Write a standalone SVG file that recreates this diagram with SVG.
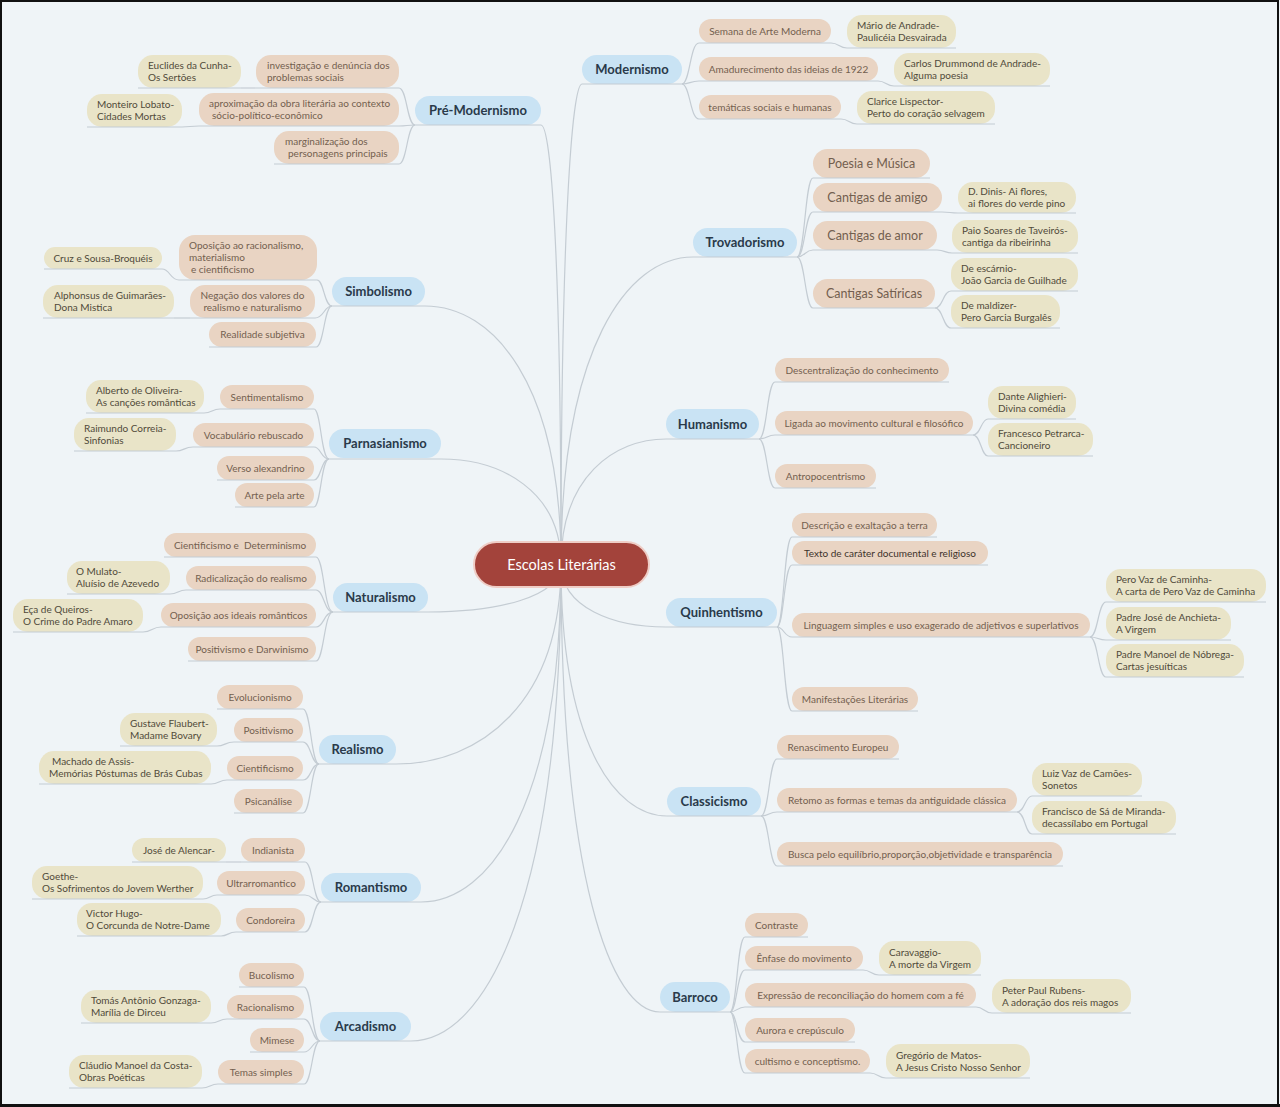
<svg xmlns="http://www.w3.org/2000/svg" width="1280" height="1107" viewBox="0 0 1280 1107">
<style>
.bg{fill:#eff4f7}
.ln{fill:none;stroke:#c4ccd3;stroke-width:1.2}
.ul{stroke:#c4ccd3;stroke-width:1.2}
.m rect{fill:#c9e3f4}
.m text{font-family:Lato,"Open Sans",sans-serif;font-weight:700;font-size:13px;fill:#2a3a4a;text-anchor:middle}
.c rect{fill:#e9d4c3}
.c text{font-family:Lato,"Open Sans",sans-serif;font-size:10px;fill:#735f4f}
.cb text{font-size:12.5px}
.g rect{fill:#e9e4c8}
.g text{font-family:Lato,"Open Sans",sans-serif;font-size:10px;fill:#504a3a}
.mid{text-anchor:middle}
.root rect{fill:#a3433b;stroke:#efcdc6;stroke-width:2}
.root text{font-family:Lato,"Open Sans",sans-serif;font-size:14.5px;fill:#ffffff;text-anchor:middle}
</style>
<rect class="bg" x="0" y="0" width="1280" height="1107"/>
<g id="connectors">
<path class="ln" d="M541,125 C551,125 561,257 561,564"/>
<path class="ln" d="M425,306 C493,306 561,383 561,564"/>
<path class="ln" d="M441,459 C501,459 561,491 561,564"/>
<path class="ln" d="M428,612 C495,612 561,598 561,564"/>
<path class="ln" d="M396,764 C479,764 561,704 561,564"/>
<path class="ln" d="M421,902 C491,902 561,801 561,564"/>
<path class="ln" d="M411,1041 C486,1041 561,898 561,564"/>
<path class="ln" d="M582,84 C572,84 561,228 561,564"/>
<path class="ln" d="M693,257 C627,257 561,349 561,564"/>
<path class="ln" d="M666,439 C614,439 561,477 561,564"/>
<path class="ln" d="M666,627 C614,627 561,608 561,564"/>
<path class="ln" d="M667,816 C614,816 561,740 561,564"/>
<path class="ln" d="M660,1012 C611,1012 561,878 561,564"/>
<path class="ln" d="M415,125 C407,125 407,88 399,88"/>
<path class="ln" d="M415,125 C407,125 407,126 399,126"/>
<path class="ln" d="M415,125 C407,125 407,164 399,164"/>
<path class="ln" d="M256,88 L241,88"/>
<path class="ln" d="M199,126 C190,126 190,127 182,127"/>
<path class="ln" d="M332,306 C324,306 324,280 317,280"/>
<path class="ln" d="M332,306 C324,306 324,318 315,318"/>
<path class="ln" d="M332,306 C324,306 324,347 316,347"/>
<path class="ln" d="M179,280 C170,280 170,269 162,269"/>
<path class="ln" d="M190,318 L174,318"/>
<path class="ln" d="M329,459 C321,459 321,409 314,409"/>
<path class="ln" d="M329,459 C321,459 321,447 314,447"/>
<path class="ln" d="M329,459 C321,459 321,480 314,480"/>
<path class="ln" d="M329,459 C321,459 321,507 314,507"/>
<path class="ln" d="M220,409 C212,409 212,413 204,413"/>
<path class="ln" d="M193,447 C184,447 184,451 176,451"/>
<path class="ln" d="M333,612 C324,612 324,557 316,557"/>
<path class="ln" d="M333,612 C324,612 324,590 316,590"/>
<path class="ln" d="M333,612 C324,612 324,627 316,627"/>
<path class="ln" d="M333,612 C324,612 324,661 316,661"/>
<path class="ln" d="M186,590 C178,590 178,594 170,594"/>
<path class="ln" d="M161,627 C152,627 152,632 143,632"/>
<path class="ln" d="M319,764 C311,764 311,709 303,709"/>
<path class="ln" d="M319,764 C311,764 311,742 303,742"/>
<path class="ln" d="M319,764 C311,764 311,780 303,780"/>
<path class="ln" d="M319,764 C311,764 311,813 303,813"/>
<path class="ln" d="M234,742 C225,742 225,746 217,746"/>
<path class="ln" d="M227,780 C219,780 219,784 211,784"/>
<path class="ln" d="M321,902 C313,902 313,862 305,862"/>
<path class="ln" d="M321,902 C313,902 313,895 305,895"/>
<path class="ln" d="M321,902 C313,902 313,932 305,932"/>
<path class="ln" d="M241,862 L226,862"/>
<path class="ln" d="M217,895 C210,895 210,899 203,899"/>
<path class="ln" d="M236,932 C228,932 228,936 221,936"/>
<path class="ln" d="M320,1041 C312,1041 312,987 304,987"/>
<path class="ln" d="M320,1041 C312,1041 312,1019 304,1019"/>
<path class="ln" d="M320,1041 C312,1041 312,1052 304,1052"/>
<path class="ln" d="M320,1041 C312,1041 312,1084 304,1084"/>
<path class="ln" d="M227,1019 C219,1019 219,1023 211,1023"/>
<path class="ln" d="M218,1084 C210,1084 210,1088 202,1088"/>
<path class="ln" d="M682,84 C690,84 690,43 699,43"/>
<path class="ln" d="M682,84 C690,84 690,81 699,81"/>
<path class="ln" d="M682,84 C690,84 690,119 699,119"/>
<path class="ln" d="M831,43 C839,43 839,48 847,48"/>
<path class="ln" d="M878,81 C886,81 886,86 894,86"/>
<path class="ln" d="M841,119 C849,119 849,124 857,124"/>
<path class="ln" d="M797,257 C805,257 805,178 813,178"/>
<path class="ln" d="M797,257 C805,257 805,212 813,212"/>
<path class="ln" d="M797,257 C805,257 805,250 813,250"/>
<path class="ln" d="M797,257 C805,257 805,308 813,308"/>
<path class="ln" d="M942,212 C950,212 950,213 958,213"/>
<path class="ln" d="M937,250 C945,250 945,253 952,253"/>
<path class="ln" d="M935,308 C943,308 943,291 951,291"/>
<path class="ln" d="M935,308 C943,308 943,328 951,328"/>
<path class="ln" d="M759,439 C767,439 767,382 775,382"/>
<path class="ln" d="M759,439 C767,439 767,435 775,435"/>
<path class="ln" d="M759,439 C767,439 767,488 775,488"/>
<path class="ln" d="M973,435 C981,435 981,419 988,419"/>
<path class="ln" d="M973,435 C981,435 981,456 988,456"/>
<path class="ln" d="M777,627 C784,627 784,537 792,537"/>
<path class="ln" d="M777,627 C784,627 784,565 792,565"/>
<path class="ln" d="M777,627 C784,627 784,637 792,637"/>
<path class="ln" d="M777,627 C784,627 784,711 792,711"/>
<path class="ln" d="M1090,637 C1098,637 1098,602 1106,602"/>
<path class="ln" d="M1090,637 C1098,637 1098,640 1106,640"/>
<path class="ln" d="M1090,637 C1098,637 1098,677 1106,677"/>
<path class="ln" d="M761,816 C769,816 769,759 777,759"/>
<path class="ln" d="M761,816 C769,816 769,812 777,812"/>
<path class="ln" d="M761,816 C769,816 769,866 777,866"/>
<path class="ln" d="M1017,812 C1025,812 1025,796 1032,796"/>
<path class="ln" d="M1017,812 C1025,812 1025,834 1032,834"/>
<path class="ln" d="M730,1012 C737,1012 737,937 745,937"/>
<path class="ln" d="M730,1012 C737,1012 737,970 745,970"/>
<path class="ln" d="M730,1012 C737,1012 737,1007 745,1007"/>
<path class="ln" d="M730,1012 C737,1012 737,1042 745,1042"/>
<path class="ln" d="M730,1012 C737,1012 737,1073 745,1073"/>
<path class="ln" d="M863,970 C871,970 871,975 879,975"/>
<path class="ln" d="M976,1007 C984,1007 984,1013 992,1013"/>
<path class="ln" d="M870,1073 C878,1073 878,1078 886,1078"/>
</g>

<g id="root" class="root"><rect x="474" y="542" width="175" height="45" rx="22.5"/><text x="561.5" y="569.5">Escolas Literárias</text></g>

<g id="premodernismo" class="m"><rect x="415" y="96" width="126" height="29" rx="14.5"/><line class="ul" x1="415" y1="125" x2="541" y2="125"/><text x="478" y="115">Pré-Modernismo</text></g>
<g id="pm-c1" class="c"><rect x="256" y="55" width="143" height="33" rx="15"/><line class="ul" x1="256" y1="88" x2="399" y2="88"/><text x="267" y="69">investigação e denúncia dos</text><text x="267" y="81">problemas sociais</text></g>
<g id="pm-c2" class="c"><rect x="199" y="93" width="200" height="33" rx="15"/><line class="ul" x1="199" y1="126" x2="399" y2="126"/><text x="209" y="107">aproximação da obra literária ao contexto</text><text x="212" y="119">sócio-político-econômico</text></g>
<g id="pm-c3" class="c"><rect x="274" y="131" width="125" height="33" rx="15"/><line class="ul" x1="274" y1="164" x2="399" y2="164"/><text x="285" y="145">marginalização dos</text><text x="288" y="157">personagens principais</text></g>
<g id="pm-g1" class="g"><rect x="138" y="55" width="103" height="33" rx="15"/><line class="ul" x1="138" y1="88" x2="241" y2="88"/><text x="148" y="69">Euclides da Cunha-</text><text x="148" y="81">Os Sertões</text></g>
<g id="pm-g2" class="g"><rect x="87" y="94" width="95" height="33" rx="15"/><line class="ul" x1="87" y1="127" x2="182" y2="127"/><text x="97" y="108">Monteiro Lobato-</text><text x="97" y="120">Cidades Mortas</text></g>

<g id="simbolismo" class="m"><rect x="332" y="277" width="93" height="29" rx="14.5"/><line class="ul" x1="332" y1="306" x2="425" y2="306"/><text x="378.5" y="296">Simbolismo</text></g>
<g id="si-c1" class="c"><rect x="179" y="235" width="138" height="45" rx="16"/><line class="ul" x1="179" y1="280" x2="317" y2="280"/><text x="189" y="249">Oposição ao racionalismo,</text><text x="189" y="261">materialismo</text><text x="191" y="273">e cientificismo</text></g>
<g id="si-c2" class="c"><rect x="190" y="285" width="125" height="33" rx="15"/><line class="ul" x1="190" y1="318" x2="315" y2="318"/><text class="mid" x="252.5" y="299">Negação dos valores do</text><text class="mid" x="252.5" y="311">realismo e naturalismo</text></g>
<g id="si-c3" class="c"><rect x="209" y="322" width="107" height="25" rx="12.5"/><line class="ul" x1="209" y1="347" x2="316" y2="347"/><text class="mid" x="262.5" y="338">Realidade subjetiva</text></g>
<g id="si-g1" class="g"><rect x="44" y="247" width="118" height="22" rx="11"/><line class="ul" x1="44" y1="269" x2="162" y2="269"/><text class="mid" x="103" y="261.5">Cruz e Sousa-Broquéis</text></g>
<g id="si-g2" class="g"><rect x="43" y="285" width="131" height="33" rx="15"/><line class="ul" x1="43" y1="318" x2="174" y2="318"/><text x="54" y="299">Alphonsus de Guimarães-</text><text x="54" y="311">Dona Mistica</text></g>

<g id="parnasianismo" class="m"><rect x="329" y="429" width="112" height="29" rx="14.5"/><line class="ul" x1="329" y1="459" x2="441" y2="459"/><text x="385" y="448">Parnasianismo</text></g>
<g id="pa-c1" class="c"><rect x="220" y="385" width="94" height="24" rx="12"/><line class="ul" x1="220" y1="409" x2="314" y2="409"/><text class="mid" x="267" y="400.5">Sentimentalismo</text></g>
<g id="pa-c2" class="c"><rect x="193" y="423" width="121" height="24" rx="12"/><line class="ul" x1="193" y1="447" x2="314" y2="447"/><text class="mid" x="253.5" y="438.5">Vocabulário rebuscado</text></g>
<g id="pa-c3" class="c"><rect x="217" y="456" width="97" height="24" rx="12"/><line class="ul" x1="217" y1="480" x2="314" y2="480"/><text class="mid" x="265.5" y="471.5">Verso alexandrino</text></g>
<g id="pa-c4" class="c"><rect x="235" y="483" width="79" height="24" rx="12"/><line class="ul" x1="235" y1="507" x2="314" y2="507"/><text class="mid" x="274.5" y="498.5">Arte pela arte</text></g>
<g id="pa-g1" class="g"><rect x="86" y="380" width="118" height="33" rx="15"/><line class="ul" x1="86" y1="413" x2="204" y2="413"/><text x="96" y="394">Alberto de Oliveira-</text><text x="96" y="406">As canções românticas</text></g>
<g id="pa-g2" class="g"><rect x="74" y="418" width="102" height="33" rx="15"/><line class="ul" x1="74" y1="451" x2="176" y2="451"/><text x="84" y="432">Raimundo Correia-</text><text x="84" y="444">Sinfonias</text></g>

<g id="naturalismo" class="m"><rect x="333" y="583" width="95" height="29" rx="14.5"/><line class="ul" x1="333" y1="612" x2="428" y2="612"/><text x="380.5" y="602">Naturalismo</text></g>
<g id="na-c1" class="c"><rect x="164" y="533" width="152" height="24" rx="12"/><line class="ul" x1="164" y1="557" x2="316" y2="557"/><text class="mid" x="240" y="548.5" xml:space="preserve">Cientificismo e  Determinismo</text></g>
<g id="na-c2" class="c"><rect x="186" y="566" width="130" height="24" rx="12"/><line class="ul" x1="186" y1="590" x2="316" y2="590"/><text class="mid" x="251" y="581.5">Radicalização do realismo</text></g>
<g id="na-c3" class="c"><rect x="161" y="603" width="155" height="24" rx="12"/><line class="ul" x1="161" y1="627" x2="316" y2="627"/><text class="mid" x="238.5" y="618.5">Oposição aos ideais românticos</text></g>
<g id="na-c4" class="c"><rect x="188" y="637" width="128" height="24" rx="12"/><line class="ul" x1="188" y1="661" x2="316" y2="661"/><text class="mid" x="252" y="652.5">Positivismo e Darwinismo</text></g>
<g id="na-g1" class="g"><rect x="67" y="561" width="103" height="33" rx="15"/><line class="ul" x1="67" y1="594" x2="170" y2="594"/><text x="76" y="575">O Mulato-</text><text x="76" y="587">Aluísio de Azevedo</text></g>
<g id="na-g2" class="g"><rect x="13" y="599" width="130" height="33" rx="15"/><line class="ul" x1="13" y1="632" x2="143" y2="632"/><text x="23" y="613">Eça de Queiros-</text><text x="23" y="625">O Crime do Padre Amaro</text></g>

<g id="realismo" class="m"><rect x="319" y="735" width="77" height="29" rx="14.5"/><line class="ul" x1="319" y1="764" x2="396" y2="764"/><text x="357.5" y="754">Realismo</text></g>
<g id="re-c1" class="c"><rect x="217" y="685" width="86" height="24" rx="12"/><line class="ul" x1="217" y1="709" x2="303" y2="709"/><text class="mid" x="260" y="700.5">Evolucionismo</text></g>
<g id="re-c2" class="c"><rect x="234" y="718" width="69" height="24" rx="12"/><line class="ul" x1="234" y1="742" x2="303" y2="742"/><text class="mid" x="268.5" y="733.5">Positivismo</text></g>
<g id="re-c3" class="c"><rect x="227" y="756" width="76" height="24" rx="12"/><line class="ul" x1="227" y1="780" x2="303" y2="780"/><text class="mid" x="265" y="771.5">Cientificismo</text></g>
<g id="re-c4" class="c"><rect x="234" y="789" width="69" height="24" rx="12"/><line class="ul" x1="234" y1="813" x2="303" y2="813"/><text class="mid" x="268.5" y="804.5">Psicanálise</text></g>
<g id="re-g1" class="g"><rect x="120" y="713" width="97" height="33" rx="15"/><line class="ul" x1="120" y1="746" x2="217" y2="746"/><text x="130" y="727">Gustave Flaubert-</text><text x="130" y="739">Madame Bovary</text></g>
<g id="re-g2" class="g"><rect x="39" y="751" width="172" height="33" rx="15"/><line class="ul" x1="39" y1="784" x2="211" y2="784"/><text x="52" y="765">Machado de Assis-</text><text x="49" y="777">Memórias Póstumas de Brás Cubas</text></g>

<g id="romantismo" class="m"><rect x="321" y="873" width="100" height="29" rx="14.5"/><line class="ul" x1="321" y1="902" x2="421" y2="902"/><text x="371" y="892">Romantismo</text></g>
<g id="ro-c1" class="c"><rect x="241" y="838" width="64" height="24" rx="12"/><line class="ul" x1="241" y1="862" x2="305" y2="862"/><text class="mid" x="273" y="853.5">Indianista</text></g>
<g id="ro-c2" class="c"><rect x="217" y="871" width="88" height="24" rx="12"/><line class="ul" x1="217" y1="895" x2="305" y2="895"/><text class="mid" x="261" y="886.5">Ultrarromantico</text></g>
<g id="ro-c3" class="c"><rect x="236" y="908" width="69" height="24" rx="12"/><line class="ul" x1="236" y1="932" x2="305" y2="932"/><text class="mid" x="270.5" y="923.5">Condoreira</text></g>
<g id="ro-g1" class="g"><rect x="132" y="838" width="94" height="24" rx="12"/><line class="ul" x1="132" y1="862" x2="226" y2="862"/><text class="mid" x="179" y="853.5">José de Alencar-</text></g>
<g id="ro-g2" class="g"><rect x="32" y="866" width="171" height="33" rx="15"/><line class="ul" x1="32" y1="899" x2="203" y2="899"/><text x="42" y="880">Goethe-</text><text x="42" y="892">Os Sofrimentos do Jovem Werther</text></g>
<g id="ro-g3" class="g"><rect x="77" y="903" width="144" height="33" rx="15"/><line class="ul" x1="77" y1="936" x2="221" y2="936"/><text x="86" y="917">Victor Hugo-</text><text x="86" y="929">O Corcunda de Notre-Dame</text></g>

<g id="arcadismo" class="m"><rect x="320" y="1012" width="91" height="29" rx="14.5"/><line class="ul" x1="320" y1="1041" x2="411" y2="1041"/><text x="365.5" y="1031">Arcadismo</text></g>
<g id="ar-c1" class="c"><rect x="239" y="963" width="65" height="24" rx="12"/><line class="ul" x1="239" y1="987" x2="304" y2="987"/><text class="mid" x="271.5" y="978.5">Bucolismo</text></g>
<g id="ar-c2" class="c"><rect x="227" y="995" width="77" height="24" rx="12"/><line class="ul" x1="227" y1="1019" x2="304" y2="1019"/><text class="mid" x="265.5" y="1010.5">Racionalismo</text></g>
<g id="ar-c3" class="c"><rect x="250" y="1028" width="54" height="24" rx="12"/><line class="ul" x1="250" y1="1052" x2="304" y2="1052"/><text class="mid" x="277" y="1043.5">Mimese</text></g>
<g id="ar-c4" class="c"><rect x="218" y="1060" width="86" height="24" rx="12"/><line class="ul" x1="218" y1="1084" x2="304" y2="1084"/><text class="mid" x="261" y="1075.5">Temas simples</text></g>
<g id="ar-g1" class="g"><rect x="81" y="990" width="130" height="33" rx="15"/><line class="ul" x1="81" y1="1023" x2="211" y2="1023"/><text x="91" y="1004">Tomás Antônio Gonzaga-</text><text x="91" y="1016">Marília de Dirceu</text></g>
<g id="ar-g2" class="g"><rect x="69" y="1055" width="133" height="33" rx="15"/><line class="ul" x1="69" y1="1088" x2="202" y2="1088"/><text x="79" y="1069">Cláudio Manoel da Costa-</text><text x="79" y="1081">Obras Poéticas</text></g>

<g id="modernismo" class="m"><rect x="582" y="55" width="100" height="29" rx="14.5"/><line class="ul" x1="582" y1="84" x2="682" y2="84"/><text x="632" y="74">Modernismo</text></g>
<g id="mo-c1" class="c"><rect x="699" y="19" width="132" height="24" rx="12"/><line class="ul" x1="699" y1="43" x2="831" y2="43"/><text class="mid" x="765" y="34.5">Semana de Arte Moderna</text></g>
<g id="mo-c2" class="c"><rect x="699" y="57" width="179" height="24" rx="12"/><line class="ul" x1="699" y1="81" x2="878" y2="81"/><text class="mid" x="788.5" y="72.5">Amadurecimento das ideias de 1922</text></g>
<g id="mo-c3" class="c"><rect x="699" y="95" width="142" height="24" rx="12"/><line class="ul" x1="699" y1="119" x2="841" y2="119"/><text class="mid" x="770" y="110.5">temáticas sociais e humanas</text></g>
<g id="mo-g1" class="g"><rect x="847" y="15" width="109" height="33" rx="15"/><line class="ul" x1="847" y1="48" x2="956" y2="48"/><text x="857" y="29">Mário de Andrade-</text><text x="857" y="41">Paulicéia Desvairada</text></g>
<g id="mo-g2" class="g"><rect x="894" y="53" width="156" height="33" rx="15"/><line class="ul" x1="894" y1="86" x2="1050" y2="86"/><text x="904" y="67">Carlos Drummond de Andrade-</text><text x="904" y="79">Alguma poesia</text></g>
<g id="mo-g3" class="g"><rect x="857" y="91" width="138" height="33" rx="15"/><line class="ul" x1="857" y1="124" x2="995" y2="124"/><text x="867" y="105">Clarice Lispector-</text><text x="867" y="117">Perto do coração selvagem</text></g>

<g id="trovadorismo" class="m"><rect x="693" y="228" width="104" height="29" rx="14.5"/><line class="ul" x1="693" y1="257" x2="797" y2="257"/><text x="745" y="247">Trovadorismo</text></g>
<g id="tr-c1" class="c cb"><rect x="813" y="149" width="117" height="29" rx="14.5"/><line class="ul" x1="813" y1="178" x2="930" y2="178"/><text class="mid" x="871.5" y="168">Poesia e Música</text></g>
<g id="tr-c2" class="c cb"><rect x="813" y="183" width="129" height="29" rx="14.5"/><line class="ul" x1="813" y1="212" x2="942" y2="212"/><text class="mid" x="877.5" y="202">Cantigas de amigo</text></g>
<g id="tr-c3" class="c cb"><rect x="813" y="221" width="124" height="29" rx="14.5"/><line class="ul" x1="813" y1="250" x2="937" y2="250"/><text class="mid" x="875" y="240">Cantigas de amor</text></g>
<g id="tr-c4" class="c cb"><rect x="813" y="279" width="122" height="29" rx="14.5"/><line class="ul" x1="813" y1="308" x2="935" y2="308"/><text class="mid" x="874" y="298">Cantigas Satíricas</text></g>
<g id="tr-g1" class="g"><rect x="958" y="182" width="118" height="31" rx="15"/><line class="ul" x1="958" y1="213" x2="1076" y2="213"/><text x="968" y="195">D. Dinis- Ai flores,</text><text x="968" y="207">ai flores do verde pino</text></g>
<g id="tr-g2" class="g"><rect x="952" y="220" width="126" height="33" rx="15"/><line class="ul" x1="952" y1="253" x2="1078" y2="253"/><text x="962" y="234">Paio Soares de Taveirós-</text><text x="962" y="246">cantiga da ribeirinha</text></g>
<g id="tr-g3" class="g"><rect x="951" y="258" width="127" height="33" rx="15"/><line class="ul" x1="951" y1="291" x2="1078" y2="291"/><text x="961" y="272">De escárnio-</text><text x="961" y="284">João Garcia de Guilhade</text></g>
<g id="tr-g4" class="g"><rect x="951" y="295" width="109" height="33" rx="15"/><line class="ul" x1="951" y1="328" x2="1060" y2="328"/><text x="961" y="309">De maldizer-</text><text x="961" y="321">Pero Garcia Burgalês</text></g>

<g id="humanismo" class="m"><rect x="666" y="409" width="93" height="30" rx="15"/><line class="ul" x1="666" y1="439" x2="759" y2="439"/><text x="712.5" y="428.5">Humanismo</text></g>
<g id="hu-c1" class="c"><rect x="775" y="358" width="174" height="24" rx="12"/><line class="ul" x1="775" y1="382" x2="949" y2="382"/><text class="mid" x="862" y="373.5">Descentralização do conhecimento</text></g>
<g id="hu-c2" class="c"><rect x="775" y="411" width="198" height="24" rx="12"/><line class="ul" x1="775" y1="435" x2="973" y2="435"/><text class="mid" x="874" y="426.5">Ligada ao movimento cultural e filosófico</text></g>
<g id="hu-c3" class="c"><rect x="775" y="464" width="101" height="24" rx="12"/><line class="ul" x1="775" y1="488" x2="876" y2="488"/><text class="mid" x="825.5" y="479.5">Antropocentrismo</text></g>
<g id="hu-g1" class="g"><rect x="988" y="386" width="88" height="33" rx="15"/><line class="ul" x1="988" y1="419" x2="1076" y2="419"/><text x="998" y="400">Dante Alighieri-</text><text x="998" y="412">Divina comédia</text></g>
<g id="hu-g2" class="g"><rect x="988" y="423" width="105" height="33" rx="15"/><line class="ul" x1="988" y1="456" x2="1093" y2="456"/><text x="998" y="437">Francesco Petrarca-</text><text x="998" y="449">Cancioneiro</text></g>

<g id="quinhentismo" class="m"><rect x="666" y="598" width="111" height="29" rx="14.5"/><line class="ul" x1="666" y1="627" x2="777" y2="627"/><text x="721.5" y="617">Quinhentismo</text></g>
<g id="qu-c1" class="c"><rect x="792" y="513" width="145" height="24" rx="12"/><line class="ul" x1="792" y1="537" x2="937" y2="537"/><text class="mid" x="864.5" y="528.5">Descrição e exaltação a terra</text></g>
<g id="qu-c2" class="c"><rect x="792" y="541" width="196" height="24" rx="12"/><line class="ul" x1="792" y1="565" x2="988" y2="565"/><text class="mid" x="890" y="556.5" style="fill:#3d332b">Texto de caráter documental e religioso</text></g>
<g id="qu-c3" class="c"><rect x="792" y="613" width="298" height="24" rx="12"/><line class="ul" x1="792" y1="637" x2="1090" y2="637"/><text class="mid" x="941" y="628.5">Linguagem simples e uso exagerado de adjetivos e superlativos</text></g>
<g id="qu-c4" class="c"><rect x="792" y="687" width="126" height="24" rx="12"/><line class="ul" x1="792" y1="711" x2="918" y2="711"/><text class="mid" x="855" y="702.5">Manifestações Literárias</text></g>
<g id="qu-g1" class="g"><rect x="1106" y="569" width="160" height="33" rx="15"/><line class="ul" x1="1106" y1="602" x2="1266" y2="602"/><text x="1116" y="583">Pero Vaz de Caminha-</text><text x="1116" y="595">A carta de Pero Vaz de Caminha</text></g>
<g id="qu-g2" class="g"><rect x="1106" y="607" width="125" height="33" rx="15"/><line class="ul" x1="1106" y1="640" x2="1231" y2="640"/><text x="1116" y="621">Padre José de Anchieta-</text><text x="1116" y="633">A Virgem</text></g>
<g id="qu-g3" class="g"><rect x="1106" y="644" width="138" height="33" rx="15"/><line class="ul" x1="1106" y1="677" x2="1244" y2="677"/><text x="1116" y="658">Padre Manoel de Nóbrega-</text><text x="1116" y="670">Cartas jesuíticas</text></g>

<g id="classicismo" class="m"><rect x="667" y="787" width="94" height="29" rx="14.5"/><line class="ul" x1="667" y1="816" x2="761" y2="816"/><text x="714" y="806">Classicismo</text></g>
<g id="cl-c1" class="c"><rect x="777" y="735" width="122" height="24" rx="12"/><line class="ul" x1="777" y1="759" x2="899" y2="759"/><text class="mid" x="838" y="750.5">Renascimento Europeu</text></g>
<g id="cl-c2" class="c"><rect x="777" y="788" width="240" height="24" rx="12"/><line class="ul" x1="777" y1="812" x2="1017" y2="812"/><text class="mid" x="897" y="803.5">Retomo as formas e temas da antiguidade clássica</text></g>
<g id="cl-c3" class="c"><rect x="777" y="842" width="286" height="24" rx="12"/><line class="ul" x1="777" y1="866" x2="1063" y2="866"/><text class="mid" x="920" y="857.5">Busca pelo equilíbrio,proporção,objetividade e transparência</text></g>
<g id="cl-g1" class="g"><rect x="1032" y="763" width="110" height="33" rx="15"/><line class="ul" x1="1032" y1="796" x2="1142" y2="796"/><text x="1042" y="777">Luiz Vaz de Camões-</text><text x="1042" y="789">Sonetos</text></g>
<g id="cl-g2" class="g"><rect x="1032" y="801" width="144" height="33" rx="15"/><line class="ul" x1="1032" y1="834" x2="1176" y2="834"/><text x="1042" y="815">Francisco de Sá de Miranda-</text><text x="1042" y="827">decassílabo em Portugal</text></g>

<g id="barroco" class="m"><rect x="660" y="982" width="70" height="30" rx="15"/><line class="ul" x1="660" y1="1012" x2="730" y2="1012"/><text x="695" y="1001.5">Barroco</text></g>
<g id="ba-c1" class="c"><rect x="745" y="913" width="63" height="24" rx="12"/><line class="ul" x1="745" y1="937" x2="808" y2="937"/><text class="mid" x="776.5" y="928.5">Contraste</text></g>
<g id="ba-c2" class="c"><rect x="745" y="946" width="118" height="24" rx="12"/><line class="ul" x1="745" y1="970" x2="863" y2="970"/><text class="mid" x="804" y="961.5">Ênfase do movimento</text></g>
<g id="ba-c3" class="c"><rect x="745" y="983" width="231" height="24" rx="12"/><line class="ul" x1="745" y1="1007" x2="976" y2="1007"/><text class="mid" x="860.5" y="998.5">Expressão de reconciliação do homem com a fé</text></g>
<g id="ba-c4" class="c"><rect x="745" y="1018" width="110" height="24" rx="12"/><line class="ul" x1="745" y1="1042" x2="855" y2="1042"/><text class="mid" x="800" y="1033.5">Aurora e crepúsculo</text></g>
<g id="ba-c5" class="c"><rect x="745" y="1049" width="125" height="24" rx="12"/><line class="ul" x1="745" y1="1073" x2="870" y2="1073"/><text class="mid" x="807.5" y="1064.5">cultismo e conceptismo.</text></g>
<g id="ba-g1" class="g"><rect x="879" y="941" width="102" height="34" rx="15"/><line class="ul" x1="879" y1="975" x2="981" y2="975"/><text x="889" y="955.5">Caravaggio-</text><text x="889" y="967.5">A morte da Virgem</text></g>
<g id="ba-g2" class="g"><rect x="992" y="979" width="139" height="34" rx="15"/><line class="ul" x1="992" y1="1013" x2="1131" y2="1013"/><text x="1002" y="993.5">Peter Paul Rubens-</text><text x="1002" y="1005.5">A adoração dos reis magos</text></g>
<g id="ba-g3" class="g"><rect x="886" y="1044" width="144" height="34" rx="15"/><line class="ul" x1="886" y1="1078" x2="1030" y2="1078"/><text x="896" y="1058.5">Gregório de Matos-</text><text x="896" y="1070.5">A Jesus Cristo Nosso Senhor</text></g>

<rect x="1" y="1" width="1277" height="1104" fill="none" stroke="#111" stroke-width="2"/>
<rect x="0" y="1104" width="1280" height="3" fill="#111"/>
</svg>
